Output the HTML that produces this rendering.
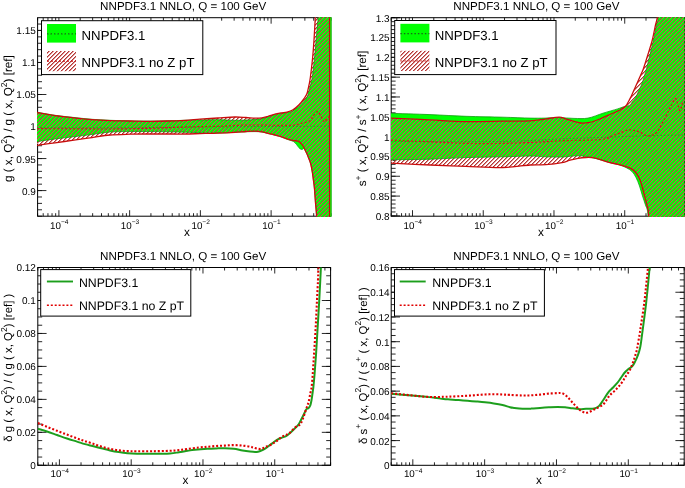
<!DOCTYPE html>
<html><head><meta charset="utf-8"><style>
html,body{margin:0;padding:0;background:#fff;}
svg{display:block;will-change:transform;}
</style></head><body>
<svg width="685" height="488" viewBox="0 0 685 488" text-rendering="geometricPrecision" font-family='&quot;Liberation Sans&quot;, sans-serif'>

<defs>
 <pattern id="hg" patternUnits="userSpaceOnUse" width="4" height="4" shape-rendering="crispEdges"><rect x="0" y="0" width="1" height="1" fill="#7da23c"/><rect x="0" y="3" width="1" height="1" fill="#a4503f"/><rect x="1" y="2" width="1" height="1" fill="#a4503f"/><rect x="1" y="3" width="1" height="1" fill="#7da23c"/><rect x="2" y="1" width="1" height="1" fill="#a4503f"/><rect x="2" y="2" width="1" height="1" fill="#7da23c"/><rect x="3" y="0" width="1" height="1" fill="#a4503f"/><rect x="3" y="1" width="1" height="1" fill="#7da23c"/></pattern>
 <pattern id="hw" patternUnits="userSpaceOnUse" width="4" height="4" shape-rendering="crispEdges"><rect x="0" y="0" width="1" height="1" fill="#e88888"/><rect x="0" y="3" width="1" height="1" fill="#a83a3a"/><rect x="1" y="2" width="1" height="1" fill="#a83a3a"/><rect x="1" y="3" width="1" height="1" fill="#e88888"/><rect x="2" y="1" width="1" height="1" fill="#a83a3a"/><rect x="2" y="2" width="1" height="1" fill="#e88888"/><rect x="3" y="0" width="1" height="1" fill="#a83a3a"/><rect x="3" y="1" width="1" height="1" fill="#e88888"/></pattern>
 <filter id="soft" x="0" y="0" width="685" height="488" filterUnits="userSpaceOnUse"><feGaussianBlur stdDeviation="0.35"/></filter>
 <clipPath id="c1"><rect x="37.0" y="17.2" width="294.5" height="199.5"/></clipPath>
 <clipPath id="c2"><rect x="390.7" y="17.2" width="293.8" height="199.5"/></clipPath>
 <clipPath id="c3"><rect x="37.8" y="267.5" width="292.8" height="197.8"/></clipPath>
 <clipPath id="c4"><rect x="391.2" y="267.5" width="293" height="197.8"/></clipPath>
</defs>

<g filter="url(#soft)">
<rect width="685" height="488" fill="#fff"/>
<path d="M37.60,216.20v-3.00M37.60,17.70v3.00M43.20,216.20v-3.00M43.20,17.70v3.00M47.94,216.20v-3.00M47.94,17.70v3.00M52.04,216.20v-3.00M52.04,17.70v3.00M55.66,216.20v-3.00M55.66,17.70v3.00M58.90,216.20v-6.00M58.90,17.70v6.00M80.19,216.20v-3.00M80.19,17.70v3.00M92.65,216.20v-3.00M92.65,17.70v3.00M101.49,216.20v-3.00M101.49,17.70v3.00M108.34,216.20v-3.00M108.34,17.70v3.00M113.94,216.20v-3.00M113.94,17.70v3.00M118.68,216.20v-3.00M118.68,17.70v3.00M122.78,216.20v-3.00M122.78,17.70v3.00M126.40,216.20v-3.00M126.40,17.70v3.00M129.64,216.20v-6.00M129.64,17.70v6.00M150.93,216.20v-3.00M150.93,17.70v3.00M163.39,216.20v-3.00M163.39,17.70v3.00M172.23,216.20v-3.00M172.23,17.70v3.00M179.08,216.20v-3.00M179.08,17.70v3.00M184.68,216.20v-3.00M184.68,17.70v3.00M189.42,216.20v-3.00M189.42,17.70v3.00M193.52,216.20v-3.00M193.52,17.70v3.00M197.14,216.20v-3.00M197.14,17.70v3.00M200.38,216.20v-6.00M200.38,17.70v6.00M221.67,216.20v-3.00M221.67,17.70v3.00M234.13,216.20v-3.00M234.13,17.70v3.00M242.97,216.20v-3.00M242.97,17.70v3.00M249.82,216.20v-3.00M249.82,17.70v3.00M255.42,216.20v-3.00M255.42,17.70v3.00M260.16,216.20v-3.00M260.16,17.70v3.00M264.26,216.20v-3.00M264.26,17.70v3.00M267.88,216.20v-3.00M267.88,17.70v3.00M271.12,216.20v-6.00M271.12,17.70v6.00M292.41,216.20v-3.00M292.41,17.70v3.00M304.87,216.20v-3.00M304.87,17.70v3.00M313.71,216.20v-3.00M313.71,17.70v3.00M320.56,216.20v-3.00M320.56,17.70v3.00M326.16,216.20v-3.00M326.16,17.70v3.00M330.90,216.20v-3.00M330.90,17.70v3.00M37.60,216.19h4.40M330.90,216.19h-4.40M37.60,209.79h4.40M330.90,209.79h-4.40M37.60,203.38h4.40M330.90,203.38h-4.40M37.60,196.98h4.40M330.90,196.98h-4.40M37.60,190.57h4.40M330.90,190.57h-4.40M37.60,184.17h4.40M330.90,184.17h-4.40M37.60,177.76h4.40M330.90,177.76h-4.40M37.60,171.36h4.40M330.90,171.36h-4.40M37.60,164.95h4.40M330.90,164.95h-4.40M37.60,158.55h4.40M330.90,158.55h-4.40M37.60,152.14h4.40M330.90,152.14h-4.40M37.60,145.74h4.40M330.90,145.74h-4.40M37.60,139.33h4.40M330.90,139.33h-4.40M37.60,132.93h4.40M330.90,132.93h-4.40M37.60,126.52h4.40M330.90,126.52h-4.40M37.60,120.12h4.40M330.90,120.12h-4.40M37.60,113.71h4.40M330.90,113.71h-4.40M37.60,107.31h4.40M330.90,107.31h-4.40M37.60,100.90h4.40M330.90,100.90h-4.40M37.60,94.50h4.40M330.90,94.50h-4.40M37.60,88.09h4.40M330.90,88.09h-4.40M37.60,81.69h4.40M330.90,81.69h-4.40M37.60,75.28h4.40M330.90,75.28h-4.40M37.60,68.88h4.40M330.90,68.88h-4.40M37.60,62.47h4.40M330.90,62.47h-4.40M37.60,56.07h4.40M330.90,56.07h-4.40M37.60,49.66h4.40M330.90,49.66h-4.40M37.60,43.26h4.40M330.90,43.26h-4.40M37.60,36.86h4.40M330.90,36.86h-4.40M37.60,30.45h4.40M330.90,30.45h-4.40M37.60,24.04h4.40M330.90,24.04h-4.40M37.60,190.57h8.80M330.90,190.57h-8.80M37.60,158.55h8.80M330.90,158.55h-8.80M37.60,126.52h8.80M330.90,126.52h-8.80M37.60,94.50h8.80M330.90,94.50h-8.80M37.60,62.47h8.80M330.90,62.47h-8.80M37.60,30.45h8.80M330.90,30.45h-8.80" stroke="#111" stroke-width="0.9" fill="none"/>
<rect x="37.60" y="17.70" width="293.30" height="198.50" fill="none" stroke="#000" stroke-width="1"/>
<path d="M391.20,216.20v-3.00M391.20,17.70v3.00M396.80,216.20v-3.00M396.80,17.70v3.00M401.54,216.20v-3.00M401.54,17.70v3.00M405.64,216.20v-3.00M405.64,17.70v3.00M409.26,216.20v-3.00M409.26,17.70v3.00M412.50,216.20v-6.00M412.50,17.70v6.00M433.79,216.20v-3.00M433.79,17.70v3.00M446.25,216.20v-3.00M446.25,17.70v3.00M455.09,216.20v-3.00M455.09,17.70v3.00M461.94,216.20v-3.00M461.94,17.70v3.00M467.54,216.20v-3.00M467.54,17.70v3.00M472.28,216.20v-3.00M472.28,17.70v3.00M476.38,216.20v-3.00M476.38,17.70v3.00M480.00,216.20v-3.00M480.00,17.70v3.00M483.24,216.20v-6.00M483.24,17.70v6.00M504.53,216.20v-3.00M504.53,17.70v3.00M516.99,216.20v-3.00M516.99,17.70v3.00M525.83,216.20v-3.00M525.83,17.70v3.00M532.68,216.20v-3.00M532.68,17.70v3.00M538.28,216.20v-3.00M538.28,17.70v3.00M543.02,216.20v-3.00M543.02,17.70v3.00M547.12,216.20v-3.00M547.12,17.70v3.00M550.74,216.20v-3.00M550.74,17.70v3.00M553.98,216.20v-6.00M553.98,17.70v6.00M575.27,216.20v-3.00M575.27,17.70v3.00M587.73,216.20v-3.00M587.73,17.70v3.00M596.57,216.20v-3.00M596.57,17.70v3.00M603.42,216.20v-3.00M603.42,17.70v3.00M609.02,216.20v-3.00M609.02,17.70v3.00M613.76,216.20v-3.00M613.76,17.70v3.00M617.86,216.20v-3.00M617.86,17.70v3.00M621.48,216.20v-3.00M621.48,17.70v3.00M624.72,216.20v-6.00M624.72,17.70v6.00M646.01,216.20v-3.00M646.01,17.70v3.00M658.47,216.20v-3.00M658.47,17.70v3.00M667.31,216.20v-3.00M667.31,17.70v3.00M674.16,216.20v-3.00M674.16,17.70v3.00M679.76,216.20v-3.00M679.76,17.70v3.00M684.50,216.20v-3.00M684.50,17.70v3.00M391.20,215.90h4.40M684.50,215.90h-4.40M391.20,211.94h4.40M684.50,211.94h-4.40M391.20,207.97h4.40M684.50,207.97h-4.40M391.20,204.01h4.40M684.50,204.01h-4.40M391.20,200.04h4.40M684.50,200.04h-4.40M391.20,196.08h4.40M684.50,196.08h-4.40M391.20,192.12h4.40M684.50,192.12h-4.40M391.20,188.15h4.40M684.50,188.15h-4.40M391.20,184.19h4.40M684.50,184.19h-4.40M391.20,180.22h4.40M684.50,180.22h-4.40M391.20,176.26h4.40M684.50,176.26h-4.40M391.20,172.30h4.40M684.50,172.30h-4.40M391.20,168.33h4.40M684.50,168.33h-4.40M391.20,164.37h4.40M684.50,164.37h-4.40M391.20,160.40h4.40M684.50,160.40h-4.40M391.20,156.44h4.40M684.50,156.44h-4.40M391.20,152.48h4.40M684.50,152.48h-4.40M391.20,148.51h4.40M684.50,148.51h-4.40M391.20,144.55h4.40M684.50,144.55h-4.40M391.20,140.58h4.40M684.50,140.58h-4.40M391.20,136.62h4.40M684.50,136.62h-4.40M391.20,132.66h4.40M684.50,132.66h-4.40M391.20,128.69h4.40M684.50,128.69h-4.40M391.20,124.73h4.40M684.50,124.73h-4.40M391.20,120.76h4.40M684.50,120.76h-4.40M391.20,116.80h4.40M684.50,116.80h-4.40M391.20,112.84h4.40M684.50,112.84h-4.40M391.20,108.87h4.40M684.50,108.87h-4.40M391.20,104.91h4.40M684.50,104.91h-4.40M391.20,100.94h4.40M684.50,100.94h-4.40M391.20,96.98h4.40M684.50,96.98h-4.40M391.20,93.02h4.40M684.50,93.02h-4.40M391.20,89.05h4.40M684.50,89.05h-4.40M391.20,85.09h4.40M684.50,85.09h-4.40M391.20,81.12h4.40M684.50,81.12h-4.40M391.20,77.16h4.40M684.50,77.16h-4.40M391.20,73.20h4.40M684.50,73.20h-4.40M391.20,69.23h4.40M684.50,69.23h-4.40M391.20,65.27h4.40M684.50,65.27h-4.40M391.20,61.30h4.40M684.50,61.30h-4.40M391.20,57.34h4.40M684.50,57.34h-4.40M391.20,53.38h4.40M684.50,53.38h-4.40M391.20,49.41h4.40M684.50,49.41h-4.40M391.20,45.45h4.40M684.50,45.45h-4.40M391.20,41.48h4.40M684.50,41.48h-4.40M391.20,37.52h4.40M684.50,37.52h-4.40M391.20,33.56h4.40M684.50,33.56h-4.40M391.20,29.59h4.40M684.50,29.59h-4.40M391.20,25.63h4.40M684.50,25.63h-4.40M391.20,21.66h4.40M684.50,21.66h-4.40M391.20,17.70h4.40M684.50,17.70h-4.40M391.20,215.90h8.80M684.50,215.90h-8.80M391.20,196.08h8.80M684.50,196.08h-8.80M391.20,176.26h8.80M684.50,176.26h-8.80M391.20,156.44h8.80M684.50,156.44h-8.80M391.20,136.62h8.80M684.50,136.62h-8.80M391.20,116.80h8.80M684.50,116.80h-8.80M391.20,96.98h8.80M684.50,96.98h-8.80M391.20,77.16h8.80M684.50,77.16h-8.80M391.20,57.34h8.80M684.50,57.34h-8.80M391.20,37.52h8.80M684.50,37.52h-8.80M391.20,17.70h8.80M684.50,17.70h-8.80" stroke="#111" stroke-width="0.9" fill="none"/>
<rect x="391.20" y="17.70" width="293.30" height="198.50" fill="none" stroke="#000" stroke-width="1"/>
<path d="M37.80,465.30v-3.00M37.80,267.50v3.00M43.48,465.30v-3.00M43.48,267.50v3.00M48.29,465.30v-3.00M48.29,267.50v3.00M52.45,465.30v-3.00M52.45,267.50v3.00M56.12,465.30v-3.00M56.12,267.50v3.00M59.41,465.30v-6.00M59.41,267.50v6.00M81.02,465.30v-3.00M81.02,267.50v3.00M93.66,465.30v-3.00M93.66,267.50v3.00M102.62,465.30v-3.00M102.62,267.50v3.00M109.58,465.30v-3.00M109.58,267.50v3.00M115.26,465.30v-3.00M115.26,267.50v3.00M120.07,465.30v-3.00M120.07,267.50v3.00M124.23,465.30v-3.00M124.23,267.50v3.00M127.90,465.30v-3.00M127.90,267.50v3.00M131.19,465.30v-6.00M131.19,267.50v6.00M152.79,465.30v-3.00M152.79,267.50v3.00M165.43,465.30v-3.00M165.43,267.50v3.00M174.40,465.30v-3.00M174.40,267.50v3.00M181.36,465.30v-3.00M181.36,267.50v3.00M187.04,465.30v-3.00M187.04,267.50v3.00M191.85,465.30v-3.00M191.85,267.50v3.00M196.01,465.30v-3.00M196.01,267.50v3.00M199.68,465.30v-3.00M199.68,267.50v3.00M202.97,465.30v-6.00M202.97,267.50v6.00M224.57,465.30v-3.00M224.57,267.50v3.00M237.21,465.30v-3.00M237.21,267.50v3.00M246.18,465.30v-3.00M246.18,267.50v3.00M253.14,465.30v-3.00M253.14,267.50v3.00M258.82,465.30v-3.00M258.82,267.50v3.00M263.63,465.30v-3.00M263.63,267.50v3.00M267.79,465.30v-3.00M267.79,267.50v3.00M271.46,465.30v-3.00M271.46,267.50v3.00M274.74,465.30v-6.00M274.74,267.50v6.00M296.35,465.30v-3.00M296.35,267.50v3.00M308.99,465.30v-3.00M308.99,267.50v3.00M317.96,465.30v-3.00M317.96,267.50v3.00M324.92,465.30v-3.00M324.92,267.50v3.00M330.60,465.30v-3.00M330.60,267.50v3.00M37.80,465.30h4.40M330.60,465.30h-4.40M37.80,457.06h4.40M330.60,457.06h-4.40M37.80,448.82h4.40M330.60,448.82h-4.40M37.80,440.58h4.40M330.60,440.58h-4.40M37.80,432.34h4.40M330.60,432.34h-4.40M37.80,424.10h4.40M330.60,424.10h-4.40M37.80,415.86h4.40M330.60,415.86h-4.40M37.80,407.62h4.40M330.60,407.62h-4.40M37.80,399.38h4.40M330.60,399.38h-4.40M37.80,391.14h4.40M330.60,391.14h-4.40M37.80,382.90h4.40M330.60,382.90h-4.40M37.80,374.66h4.40M330.60,374.66h-4.40M37.80,366.42h4.40M330.60,366.42h-4.40M37.80,358.18h4.40M330.60,358.18h-4.40M37.80,349.94h4.40M330.60,349.94h-4.40M37.80,341.70h4.40M330.60,341.70h-4.40M37.80,333.46h4.40M330.60,333.46h-4.40M37.80,325.22h4.40M330.60,325.22h-4.40M37.80,316.98h4.40M330.60,316.98h-4.40M37.80,308.74h4.40M330.60,308.74h-4.40M37.80,300.50h4.40M330.60,300.50h-4.40M37.80,292.26h4.40M330.60,292.26h-4.40M37.80,284.02h4.40M330.60,284.02h-4.40M37.80,275.78h4.40M330.60,275.78h-4.40M37.80,267.54h4.40M330.60,267.54h-4.40M37.80,465.30h8.80M330.60,465.30h-8.80M37.80,432.34h8.80M330.60,432.34h-8.80M37.80,399.38h8.80M330.60,399.38h-8.80M37.80,366.42h8.80M330.60,366.42h-8.80M37.80,333.46h8.80M330.60,333.46h-8.80M37.80,300.50h8.80M330.60,300.50h-8.80M37.80,267.54h8.80M330.60,267.54h-8.80" stroke="#111" stroke-width="0.9" fill="none"/>
<rect x="37.80" y="267.50" width="292.80" height="197.80" fill="none" stroke="#000" stroke-width="1"/>
<path d="M391.20,465.30v-3.00M391.20,267.50v3.00M396.89,465.30v-3.00M396.89,267.50v3.00M401.70,465.30v-3.00M401.70,267.50v3.00M405.86,465.30v-3.00M405.86,267.50v3.00M409.54,465.30v-3.00M409.54,267.50v3.00M412.82,465.30v-6.00M412.82,267.50v6.00M434.44,465.30v-3.00M434.44,267.50v3.00M447.09,465.30v-3.00M447.09,267.50v3.00M456.07,465.30v-3.00M456.07,267.50v3.00M463.03,465.30v-3.00M463.03,267.50v3.00M468.72,465.30v-3.00M468.72,267.50v3.00M473.52,465.30v-3.00M473.52,267.50v3.00M477.69,465.30v-3.00M477.69,267.50v3.00M481.36,465.30v-3.00M481.36,267.50v3.00M484.65,465.30v-6.00M484.65,267.50v6.00M506.27,465.30v-3.00M506.27,267.50v3.00M518.92,465.30v-3.00M518.92,267.50v3.00M527.90,465.30v-3.00M527.90,267.50v3.00M534.86,465.30v-3.00M534.86,267.50v3.00M540.54,465.30v-3.00M540.54,267.50v3.00M545.35,465.30v-3.00M545.35,267.50v3.00M549.52,465.30v-3.00M549.52,267.50v3.00M553.19,465.30v-3.00M553.19,267.50v3.00M556.48,465.30v-6.00M556.48,267.50v6.00M578.10,465.30v-3.00M578.10,267.50v3.00M590.75,465.30v-3.00M590.75,267.50v3.00M599.72,465.30v-3.00M599.72,267.50v3.00M606.68,465.30v-3.00M606.68,267.50v3.00M612.37,465.30v-3.00M612.37,267.50v3.00M617.18,465.30v-3.00M617.18,267.50v3.00M621.35,465.30v-3.00M621.35,267.50v3.00M625.02,465.30v-3.00M625.02,267.50v3.00M628.31,465.30v-6.00M628.31,267.50v6.00M649.93,465.30v-3.00M649.93,267.50v3.00M662.58,465.30v-3.00M662.58,267.50v3.00M671.55,465.30v-3.00M671.55,267.50v3.00M678.51,465.30v-3.00M678.51,267.50v3.00M684.20,465.30v-3.00M684.20,267.50v3.00M391.20,465.30h4.40M684.20,465.30h-4.40M391.20,459.12h4.40M684.20,459.12h-4.40M391.20,452.94h4.40M684.20,452.94h-4.40M391.20,446.76h4.40M684.20,446.76h-4.40M391.20,440.58h4.40M684.20,440.58h-4.40M391.20,434.40h4.40M684.20,434.40h-4.40M391.20,428.22h4.40M684.20,428.22h-4.40M391.20,422.04h4.40M684.20,422.04h-4.40M391.20,415.86h4.40M684.20,415.86h-4.40M391.20,409.68h4.40M684.20,409.68h-4.40M391.20,403.50h4.40M684.20,403.50h-4.40M391.20,397.32h4.40M684.20,397.32h-4.40M391.20,391.14h4.40M684.20,391.14h-4.40M391.20,384.96h4.40M684.20,384.96h-4.40M391.20,378.78h4.40M684.20,378.78h-4.40M391.20,372.60h4.40M684.20,372.60h-4.40M391.20,366.42h4.40M684.20,366.42h-4.40M391.20,360.24h4.40M684.20,360.24h-4.40M391.20,354.06h4.40M684.20,354.06h-4.40M391.20,347.88h4.40M684.20,347.88h-4.40M391.20,341.70h4.40M684.20,341.70h-4.40M391.20,335.52h4.40M684.20,335.52h-4.40M391.20,329.34h4.40M684.20,329.34h-4.40M391.20,323.16h4.40M684.20,323.16h-4.40M391.20,316.98h4.40M684.20,316.98h-4.40M391.20,310.80h4.40M684.20,310.80h-4.40M391.20,304.62h4.40M684.20,304.62h-4.40M391.20,298.44h4.40M684.20,298.44h-4.40M391.20,292.26h4.40M684.20,292.26h-4.40M391.20,286.08h4.40M684.20,286.08h-4.40M391.20,279.90h4.40M684.20,279.90h-4.40M391.20,273.72h4.40M684.20,273.72h-4.40M391.20,267.54h4.40M684.20,267.54h-4.40M391.20,465.30h8.80M684.20,465.30h-8.80M391.20,440.58h8.80M684.20,440.58h-8.80M391.20,415.86h8.80M684.20,415.86h-8.80M391.20,391.14h8.80M684.20,391.14h-8.80M391.20,366.42h8.80M684.20,366.42h-8.80M391.20,341.70h8.80M684.20,341.70h-8.80M391.20,316.98h8.80M684.20,316.98h-8.80M391.20,292.26h8.80M684.20,292.26h-8.80M391.20,267.54h8.80M684.20,267.54h-8.80" stroke="#111" stroke-width="0.9" fill="none"/>
<rect x="391.20" y="267.50" width="293.00" height="197.80" fill="none" stroke="#000" stroke-width="1"/>
<g clip-path="url(#c1)">
<path d="M37.00,112.20 C40.00,112.72 48.83,114.42 55.00,115.30 C61.17,116.18 67.83,116.83 74.00,117.50 C80.17,118.17 86.00,118.83 92.00,119.30 C98.00,119.77 103.67,120.03 110.00,120.30 C116.33,120.57 123.33,120.77 130.00,120.90 C136.67,121.03 143.67,121.12 150.00,121.10 C156.33,121.08 162.17,120.93 168.00,120.80 C173.83,120.67 179.67,120.43 185.00,120.30 C190.33,120.17 194.50,120.10 200.00,120.00 C205.50,119.90 212.17,119.65 218.00,119.70 C223.83,119.75 230.33,120.25 235.00,120.30 C239.67,120.35 242.67,120.13 246.00,120.00 C249.33,119.87 252.33,119.73 255.00,119.50 C257.67,119.27 259.83,119.05 262.00,118.60 C264.17,118.15 265.83,117.48 268.00,116.80 C270.17,116.12 272.83,115.07 275.00,114.50 C277.17,113.93 279.00,113.73 281.00,113.40 C283.00,113.07 285.00,112.93 287.00,112.50 C289.00,112.07 291.00,111.80 293.00,110.80 C295.00,109.80 297.17,108.05 299.00,106.50 C300.83,104.95 302.67,103.00 304.00,101.50 C305.33,100.00 306.17,99.25 307.00,97.50 C307.83,95.75 308.33,93.42 309.00,91.00 C309.67,88.58 310.40,85.67 311.00,83.00 C311.60,80.33 311.97,79.67 312.60,75.00 C313.23,70.33 314.07,62.50 314.80,55.00 C315.53,47.50 316.43,36.33 317.00,30.00 C317.57,23.67 317.90,22.00 318.20,17.00 C318.50,12.00 318.70,2.83 318.80,0.00 L318.80,-20.00 L332.00,-20.00 L332.00,260.00 L317.20,255.00 L317.20,235.00 C317.10,231.83 316.87,221.17 316.60,216.00 C316.33,210.83 315.97,208.67 315.60,204.00 C315.23,199.33 314.77,192.00 314.40,188.00 C314.03,184.00 313.75,182.67 313.40,180.00 C313.05,177.33 312.70,174.50 312.30,172.00 C311.90,169.50 311.43,166.87 311.00,165.00 C310.57,163.13 310.15,162.08 309.70,160.80 C309.25,159.52 308.77,158.48 308.30,157.30 C307.83,156.12 307.38,154.78 306.90,153.70 C306.42,152.62 305.88,151.68 305.40,150.80 C304.92,149.92 304.47,148.67 304.00,148.40 C303.53,148.13 303.10,149.05 302.60,149.20 C302.10,149.35 301.60,149.53 301.00,149.30 C300.40,149.07 299.75,148.60 299.00,147.80 C298.25,147.00 297.40,145.53 296.50,144.50 C295.60,143.47 294.80,142.35 293.60,141.60 C292.40,140.85 290.73,140.53 289.30,140.00 C287.87,139.47 286.38,138.93 285.00,138.40 C283.62,137.87 282.67,137.33 281.00,136.80 C279.33,136.27 277.17,135.75 275.00,135.20 C272.83,134.65 270.17,134.03 268.00,133.50 C265.83,132.97 264.17,132.32 262.00,132.00 C259.83,131.68 257.67,131.63 255.00,131.60 C252.33,131.57 249.33,131.68 246.00,131.80 C242.67,131.92 239.67,132.10 235.00,132.30 C230.33,132.50 223.83,132.95 218.00,133.00 C212.17,133.05 205.50,132.73 200.00,132.60 C194.50,132.47 190.33,132.33 185.00,132.20 C179.67,132.07 173.83,131.90 168.00,131.80 C162.17,131.70 156.33,131.63 150.00,131.60 C143.67,131.57 136.67,131.53 130.00,131.60 C123.33,131.67 116.33,131.52 110.00,132.00 C103.67,132.48 98.00,133.72 92.00,134.50 C86.00,135.28 80.17,135.95 74.00,136.70 C67.83,137.45 61.17,138.18 55.00,139.00 C48.83,139.82 40.00,141.17 37.00,141.60 Z" fill="#00ff00"/>
<path d="M37.00,112.50 C40.00,113.02 48.83,114.72 55.00,115.60 C61.17,116.48 67.83,117.13 74.00,117.80 C80.17,118.47 86.00,119.13 92.00,119.60 C98.00,120.07 103.67,120.37 110.00,120.60 C116.33,120.83 123.33,120.88 130.00,121.00 C136.67,121.12 143.67,121.30 150.00,121.30 C156.33,121.30 162.17,121.17 168.00,121.00 C173.83,120.83 179.67,120.60 185.00,120.30 C190.33,120.00 194.50,119.58 200.00,119.20 C205.50,118.82 212.17,118.37 218.00,118.00 C223.83,117.63 230.33,117.08 235.00,117.00 C239.67,116.92 242.67,117.30 246.00,117.50 C249.33,117.70 252.33,118.15 255.00,118.20 C257.67,118.25 259.83,118.12 262.00,117.80 C264.17,117.48 265.83,116.92 268.00,116.30 C270.17,115.68 272.83,114.65 275.00,114.10 C277.17,113.55 279.00,113.32 281.00,113.00 C283.00,112.68 285.00,112.73 287.00,112.20 C289.00,111.67 291.00,111.03 293.00,109.80 C295.00,108.57 297.17,106.65 299.00,104.80 C300.83,102.95 302.67,100.58 304.00,98.70 C305.33,96.82 306.17,95.78 307.00,93.50 C307.83,91.22 308.43,87.75 309.00,85.00 C309.57,82.25 309.80,81.50 310.40,77.00 C311.00,72.50 312.00,64.17 312.60,58.00 C313.20,51.83 313.55,46.83 314.00,40.00 C314.45,33.17 314.97,23.67 315.30,17.00 C315.63,10.33 315.88,2.83 316.00,0.00 L316.00,-20.00 L329.60,-20.00 L329.60,260.00 L317.20,255.00 L317.20,235.00 C317.10,231.83 316.87,221.17 316.60,216.00 C316.33,210.83 315.97,208.67 315.60,204.00 C315.23,199.33 314.77,192.00 314.40,188.00 C314.03,184.00 313.75,182.67 313.40,180.00 C313.05,177.33 312.70,174.50 312.30,172.00 C311.90,169.50 311.43,166.87 311.00,165.00 C310.57,163.13 310.15,162.08 309.70,160.80 C309.25,159.52 308.77,158.48 308.30,157.30 C307.83,156.12 307.38,154.78 306.90,153.70 C306.42,152.62 305.88,151.77 305.40,150.80 C304.92,149.83 304.47,148.80 304.00,147.90 C303.53,147.00 303.20,146.23 302.60,145.40 C302.00,144.57 301.18,143.62 300.40,142.90 C299.62,142.18 299.03,141.48 297.90,141.10 C296.77,140.72 295.03,140.83 293.60,140.60 C292.17,140.37 290.73,140.10 289.30,139.70 C287.87,139.30 286.38,138.72 285.00,138.20 C283.62,137.68 282.67,137.13 281.00,136.60 C279.33,136.07 277.17,135.55 275.00,135.00 C272.83,134.45 270.17,133.82 268.00,133.30 C265.83,132.78 264.17,132.25 262.00,131.90 C259.83,131.55 257.67,131.27 255.00,131.20 C252.33,131.13 249.33,131.32 246.00,131.50 C242.67,131.68 239.67,132.03 235.00,132.30 C230.33,132.57 223.83,132.88 218.00,133.10 C212.17,133.32 205.50,133.45 200.00,133.60 C194.50,133.75 190.33,133.93 185.00,134.00 C179.67,134.07 173.83,134.00 168.00,134.00 C162.17,134.00 156.33,133.97 150.00,134.00 C143.67,134.03 136.67,134.03 130.00,134.20 C123.33,134.37 116.33,134.43 110.00,135.00 C103.67,135.57 98.00,136.73 92.00,137.60 C86.00,138.47 80.17,139.33 74.00,140.20 C67.83,141.07 61.17,141.93 55.00,142.80 C48.83,143.67 40.00,144.97 37.00,145.40 Z" fill="url(#hw)"/>
<clipPath id="c1g"><path d="M37.00,112.20 C40.00,112.72 48.83,114.42 55.00,115.30 C61.17,116.18 67.83,116.83 74.00,117.50 C80.17,118.17 86.00,118.83 92.00,119.30 C98.00,119.77 103.67,120.03 110.00,120.30 C116.33,120.57 123.33,120.77 130.00,120.90 C136.67,121.03 143.67,121.12 150.00,121.10 C156.33,121.08 162.17,120.93 168.00,120.80 C173.83,120.67 179.67,120.43 185.00,120.30 C190.33,120.17 194.50,120.10 200.00,120.00 C205.50,119.90 212.17,119.65 218.00,119.70 C223.83,119.75 230.33,120.25 235.00,120.30 C239.67,120.35 242.67,120.13 246.00,120.00 C249.33,119.87 252.33,119.73 255.00,119.50 C257.67,119.27 259.83,119.05 262.00,118.60 C264.17,118.15 265.83,117.48 268.00,116.80 C270.17,116.12 272.83,115.07 275.00,114.50 C277.17,113.93 279.00,113.73 281.00,113.40 C283.00,113.07 285.00,112.93 287.00,112.50 C289.00,112.07 291.00,111.80 293.00,110.80 C295.00,109.80 297.17,108.05 299.00,106.50 C300.83,104.95 302.67,103.00 304.00,101.50 C305.33,100.00 306.17,99.25 307.00,97.50 C307.83,95.75 308.33,93.42 309.00,91.00 C309.67,88.58 310.40,85.67 311.00,83.00 C311.60,80.33 311.97,79.67 312.60,75.00 C313.23,70.33 314.07,62.50 314.80,55.00 C315.53,47.50 316.43,36.33 317.00,30.00 C317.57,23.67 317.90,22.00 318.20,17.00 C318.50,12.00 318.70,2.83 318.80,0.00 L318.80,-20.00 L332.00,-20.00 L332.00,260.00 L317.20,255.00 L317.20,235.00 C317.10,231.83 316.87,221.17 316.60,216.00 C316.33,210.83 315.97,208.67 315.60,204.00 C315.23,199.33 314.77,192.00 314.40,188.00 C314.03,184.00 313.75,182.67 313.40,180.00 C313.05,177.33 312.70,174.50 312.30,172.00 C311.90,169.50 311.43,166.87 311.00,165.00 C310.57,163.13 310.15,162.08 309.70,160.80 C309.25,159.52 308.77,158.48 308.30,157.30 C307.83,156.12 307.38,154.78 306.90,153.70 C306.42,152.62 305.88,151.68 305.40,150.80 C304.92,149.92 304.47,148.67 304.00,148.40 C303.53,148.13 303.10,149.05 302.60,149.20 C302.10,149.35 301.60,149.53 301.00,149.30 C300.40,149.07 299.75,148.60 299.00,147.80 C298.25,147.00 297.40,145.53 296.50,144.50 C295.60,143.47 294.80,142.35 293.60,141.60 C292.40,140.85 290.73,140.53 289.30,140.00 C287.87,139.47 286.38,138.93 285.00,138.40 C283.62,137.87 282.67,137.33 281.00,136.80 C279.33,136.27 277.17,135.75 275.00,135.20 C272.83,134.65 270.17,134.03 268.00,133.50 C265.83,132.97 264.17,132.32 262.00,132.00 C259.83,131.68 257.67,131.63 255.00,131.60 C252.33,131.57 249.33,131.68 246.00,131.80 C242.67,131.92 239.67,132.10 235.00,132.30 C230.33,132.50 223.83,132.95 218.00,133.00 C212.17,133.05 205.50,132.73 200.00,132.60 C194.50,132.47 190.33,132.33 185.00,132.20 C179.67,132.07 173.83,131.90 168.00,131.80 C162.17,131.70 156.33,131.63 150.00,131.60 C143.67,131.57 136.67,131.53 130.00,131.60 C123.33,131.67 116.33,131.52 110.00,132.00 C103.67,132.48 98.00,133.72 92.00,134.50 C86.00,135.28 80.17,135.95 74.00,136.70 C67.83,137.45 61.17,138.18 55.00,139.00 C48.83,139.82 40.00,141.17 37.00,141.60 Z"/></clipPath>
<path d="M37.00,112.50 C40.00,113.02 48.83,114.72 55.00,115.60 C61.17,116.48 67.83,117.13 74.00,117.80 C80.17,118.47 86.00,119.13 92.00,119.60 C98.00,120.07 103.67,120.37 110.00,120.60 C116.33,120.83 123.33,120.88 130.00,121.00 C136.67,121.12 143.67,121.30 150.00,121.30 C156.33,121.30 162.17,121.17 168.00,121.00 C173.83,120.83 179.67,120.60 185.00,120.30 C190.33,120.00 194.50,119.58 200.00,119.20 C205.50,118.82 212.17,118.37 218.00,118.00 C223.83,117.63 230.33,117.08 235.00,117.00 C239.67,116.92 242.67,117.30 246.00,117.50 C249.33,117.70 252.33,118.15 255.00,118.20 C257.67,118.25 259.83,118.12 262.00,117.80 C264.17,117.48 265.83,116.92 268.00,116.30 C270.17,115.68 272.83,114.65 275.00,114.10 C277.17,113.55 279.00,113.32 281.00,113.00 C283.00,112.68 285.00,112.73 287.00,112.20 C289.00,111.67 291.00,111.03 293.00,109.80 C295.00,108.57 297.17,106.65 299.00,104.80 C300.83,102.95 302.67,100.58 304.00,98.70 C305.33,96.82 306.17,95.78 307.00,93.50 C307.83,91.22 308.43,87.75 309.00,85.00 C309.57,82.25 309.80,81.50 310.40,77.00 C311.00,72.50 312.00,64.17 312.60,58.00 C313.20,51.83 313.55,46.83 314.00,40.00 C314.45,33.17 314.97,23.67 315.30,17.00 C315.63,10.33 315.88,2.83 316.00,0.00 L316.00,-20.00 L329.60,-20.00 L329.60,260.00 L317.20,255.00 L317.20,235.00 C317.10,231.83 316.87,221.17 316.60,216.00 C316.33,210.83 315.97,208.67 315.60,204.00 C315.23,199.33 314.77,192.00 314.40,188.00 C314.03,184.00 313.75,182.67 313.40,180.00 C313.05,177.33 312.70,174.50 312.30,172.00 C311.90,169.50 311.43,166.87 311.00,165.00 C310.57,163.13 310.15,162.08 309.70,160.80 C309.25,159.52 308.77,158.48 308.30,157.30 C307.83,156.12 307.38,154.78 306.90,153.70 C306.42,152.62 305.88,151.77 305.40,150.80 C304.92,149.83 304.47,148.80 304.00,147.90 C303.53,147.00 303.20,146.23 302.60,145.40 C302.00,144.57 301.18,143.62 300.40,142.90 C299.62,142.18 299.03,141.48 297.90,141.10 C296.77,140.72 295.03,140.83 293.60,140.60 C292.17,140.37 290.73,140.10 289.30,139.70 C287.87,139.30 286.38,138.72 285.00,138.20 C283.62,137.68 282.67,137.13 281.00,136.60 C279.33,136.07 277.17,135.55 275.00,135.00 C272.83,134.45 270.17,133.82 268.00,133.30 C265.83,132.78 264.17,132.25 262.00,131.90 C259.83,131.55 257.67,131.27 255.00,131.20 C252.33,131.13 249.33,131.32 246.00,131.50 C242.67,131.68 239.67,132.03 235.00,132.30 C230.33,132.57 223.83,132.88 218.00,133.10 C212.17,133.32 205.50,133.45 200.00,133.60 C194.50,133.75 190.33,133.93 185.00,134.00 C179.67,134.07 173.83,134.00 168.00,134.00 C162.17,134.00 156.33,133.97 150.00,134.00 C143.67,134.03 136.67,134.03 130.00,134.20 C123.33,134.37 116.33,134.43 110.00,135.00 C103.67,135.57 98.00,136.73 92.00,137.60 C86.00,138.47 80.17,139.33 74.00,140.20 C67.83,141.07 61.17,141.93 55.00,142.80 C48.83,143.67 40.00,144.97 37.00,145.40 Z" fill="url(#hg)" clip-path="url(#c1g)"/>
<path d="M37.00,112.20 C40.00,112.72 48.83,114.42 55.00,115.30 C61.17,116.18 67.83,116.83 74.00,117.50 C80.17,118.17 86.00,118.83 92.00,119.30 C98.00,119.77 103.67,120.03 110.00,120.30 C116.33,120.57 123.33,120.77 130.00,120.90 C136.67,121.03 143.67,121.12 150.00,121.10 C156.33,121.08 162.17,120.93 168.00,120.80 C173.83,120.67 179.67,120.43 185.00,120.30 C190.33,120.17 194.50,120.10 200.00,120.00 C205.50,119.90 212.17,119.65 218.00,119.70 C223.83,119.75 230.33,120.25 235.00,120.30 C239.67,120.35 242.67,120.13 246.00,120.00 C249.33,119.87 252.33,119.73 255.00,119.50 C257.67,119.27 259.83,119.05 262.00,118.60 C264.17,118.15 265.83,117.48 268.00,116.80 C270.17,116.12 272.83,115.07 275.00,114.50 C277.17,113.93 279.00,113.73 281.00,113.40 C283.00,113.07 285.00,112.93 287.00,112.50 C289.00,112.07 291.00,111.80 293.00,110.80 C295.00,109.80 297.17,108.05 299.00,106.50 C300.83,104.95 302.67,103.00 304.00,101.50 C305.33,100.00 306.17,99.25 307.00,97.50 C307.83,95.75 308.33,93.42 309.00,91.00 C309.67,88.58 310.40,85.67 311.00,83.00 C311.60,80.33 311.97,79.67 312.60,75.00 C313.23,70.33 314.07,62.50 314.80,55.00 C315.53,47.50 316.43,36.33 317.00,30.00 C317.57,23.67 317.90,22.00 318.20,17.00 C318.50,12.00 318.70,2.83 318.80,0.00" fill="none" stroke="#159a15" stroke-width="0.8"/>
<path d="M37.00,141.60 C40.00,141.17 48.83,139.82 55.00,139.00 C61.17,138.18 67.83,137.45 74.00,136.70 C80.17,135.95 86.00,135.28 92.00,134.50 C98.00,133.72 103.67,132.48 110.00,132.00 C116.33,131.52 123.33,131.67 130.00,131.60 C136.67,131.53 143.67,131.57 150.00,131.60 C156.33,131.63 162.17,131.70 168.00,131.80 C173.83,131.90 179.67,132.07 185.00,132.20 C190.33,132.33 194.50,132.47 200.00,132.60 C205.50,132.73 212.17,133.05 218.00,133.00 C223.83,132.95 230.33,132.50 235.00,132.30 C239.67,132.10 242.67,131.92 246.00,131.80 C249.33,131.68 252.33,131.57 255.00,131.60 C257.67,131.63 259.83,131.68 262.00,132.00 C264.17,132.32 265.83,132.97 268.00,133.50 C270.17,134.03 272.83,134.65 275.00,135.20 C277.17,135.75 279.33,136.27 281.00,136.80 C282.67,137.33 283.62,137.87 285.00,138.40 C286.38,138.93 287.87,139.47 289.30,140.00 C290.73,140.53 292.40,140.85 293.60,141.60 C294.80,142.35 295.60,143.47 296.50,144.50 C297.40,145.53 298.25,147.00 299.00,147.80 C299.75,148.60 300.40,149.07 301.00,149.30 C301.60,149.53 302.10,149.35 302.60,149.20 C303.10,149.05 303.53,148.13 304.00,148.40 C304.47,148.67 304.92,149.92 305.40,150.80 C305.88,151.68 306.42,152.62 306.90,153.70 C307.38,154.78 307.83,156.12 308.30,157.30 C308.77,158.48 309.25,159.52 309.70,160.80 C310.15,162.08 310.57,163.13 311.00,165.00 C311.43,166.87 311.90,169.50 312.30,172.00 C312.70,174.50 313.05,177.33 313.40,180.00 C313.75,182.67 314.03,184.00 314.40,188.00 C314.77,192.00 315.23,199.33 315.60,204.00 C315.97,208.67 316.33,210.83 316.60,216.00 C316.87,221.17 317.10,231.83 317.20,235.00" fill="none" stroke="#159a15" stroke-width="0.8"/>
<path d="M37.00,112.50 C40.00,113.02 48.83,114.72 55.00,115.60 C61.17,116.48 67.83,117.13 74.00,117.80 C80.17,118.47 86.00,119.13 92.00,119.60 C98.00,120.07 103.67,120.37 110.00,120.60 C116.33,120.83 123.33,120.88 130.00,121.00 C136.67,121.12 143.67,121.30 150.00,121.30 C156.33,121.30 162.17,121.17 168.00,121.00 C173.83,120.83 179.67,120.60 185.00,120.30 C190.33,120.00 194.50,119.58 200.00,119.20 C205.50,118.82 212.17,118.37 218.00,118.00 C223.83,117.63 230.33,117.08 235.00,117.00 C239.67,116.92 242.67,117.30 246.00,117.50 C249.33,117.70 252.33,118.15 255.00,118.20 C257.67,118.25 259.83,118.12 262.00,117.80 C264.17,117.48 265.83,116.92 268.00,116.30 C270.17,115.68 272.83,114.65 275.00,114.10 C277.17,113.55 279.00,113.32 281.00,113.00 C283.00,112.68 285.00,112.73 287.00,112.20 C289.00,111.67 291.00,111.03 293.00,109.80 C295.00,108.57 297.17,106.65 299.00,104.80 C300.83,102.95 302.67,100.58 304.00,98.70 C305.33,96.82 306.17,95.78 307.00,93.50 C307.83,91.22 308.43,87.75 309.00,85.00 C309.57,82.25 309.80,81.50 310.40,77.00 C311.00,72.50 312.00,64.17 312.60,58.00 C313.20,51.83 313.55,46.83 314.00,40.00 C314.45,33.17 314.97,23.67 315.30,17.00 C315.63,10.33 315.88,2.83 316.00,0.00" fill="none" stroke="#c81010" stroke-width="1.3"/>
<path d="M37.00,145.40 C40.00,144.97 48.83,143.67 55.00,142.80 C61.17,141.93 67.83,141.07 74.00,140.20 C80.17,139.33 86.00,138.47 92.00,137.60 C98.00,136.73 103.67,135.57 110.00,135.00 C116.33,134.43 123.33,134.37 130.00,134.20 C136.67,134.03 143.67,134.03 150.00,134.00 C156.33,133.97 162.17,134.00 168.00,134.00 C173.83,134.00 179.67,134.07 185.00,134.00 C190.33,133.93 194.50,133.75 200.00,133.60 C205.50,133.45 212.17,133.32 218.00,133.10 C223.83,132.88 230.33,132.57 235.00,132.30 C239.67,132.03 242.67,131.68 246.00,131.50 C249.33,131.32 252.33,131.13 255.00,131.20 C257.67,131.27 259.83,131.55 262.00,131.90 C264.17,132.25 265.83,132.78 268.00,133.30 C270.17,133.82 272.83,134.45 275.00,135.00 C277.17,135.55 279.33,136.07 281.00,136.60 C282.67,137.13 283.62,137.68 285.00,138.20 C286.38,138.72 287.87,139.30 289.30,139.70 C290.73,140.10 292.17,140.37 293.60,140.60 C295.03,140.83 296.77,140.72 297.90,141.10 C299.03,141.48 299.62,142.18 300.40,142.90 C301.18,143.62 302.00,144.57 302.60,145.40 C303.20,146.23 303.53,147.00 304.00,147.90 C304.47,148.80 304.92,149.83 305.40,150.80 C305.88,151.77 306.42,152.62 306.90,153.70 C307.38,154.78 307.83,156.12 308.30,157.30 C308.77,158.48 309.25,159.52 309.70,160.80 C310.15,162.08 310.57,163.13 311.00,165.00 C311.43,166.87 311.90,169.50 312.30,172.00 C312.70,174.50 313.05,177.33 313.40,180.00 C313.75,182.67 314.03,184.00 314.40,188.00 C314.77,192.00 315.23,199.33 315.60,204.00 C315.97,208.67 316.33,210.83 316.60,216.00 C316.87,221.17 317.10,231.83 317.20,235.00" fill="none" stroke="#c81010" stroke-width="1.3"/>
<path d="M329.60,0 V240" fill="none" stroke="#c81010" stroke-width="1.3"/>
<path d="M37.00,127.60 C49.17,127.63 85.33,127.87 110.00,127.80 C134.67,127.73 161.67,127.40 185.00,127.20 C208.33,127.00 230.83,126.73 250.00,126.60 C269.17,126.47 286.67,126.50 300.00,126.40 C313.33,126.30 325.00,126.07 330.00,126.00" fill="none" stroke="#2b6b2b" stroke-width="1" stroke-dasharray="1.5 2" opacity="0.6"/>
<path d="M37.00,128.70 C43.17,128.72 61.83,128.75 74.00,128.80 C86.17,128.85 97.33,129.08 110.00,129.00 C122.67,128.92 137.50,128.63 150.00,128.30 C162.50,127.97 173.67,127.35 185.00,127.00 C196.33,126.65 207.17,126.53 218.00,126.20 C228.83,125.87 238.00,125.13 250.00,125.00 C262.00,124.87 281.67,125.63 290.00,125.40 C298.33,125.17 296.67,124.37 300.00,123.60 C303.33,122.83 307.83,122.03 310.00,120.80 C312.17,119.57 311.75,117.73 313.00,116.20 C314.25,114.67 316.33,111.83 317.50,111.60 C318.67,111.37 319.08,113.42 320.00,114.80 C320.92,116.18 322.17,118.73 323.00,119.90 C323.83,121.07 324.33,122.12 325.00,121.80 C325.67,121.48 326.25,118.80 327.00,118.00 C327.75,117.20 329.08,117.17 329.50,117.00" fill="none" stroke="#d01818" stroke-width="1.2" stroke-dasharray="2 2"/>
</g>
<g clip-path="url(#c2)">
<path d="M391.00,113.30 C397.50,113.52 417.50,114.10 430.00,114.60 C442.50,115.10 453.83,115.87 466.00,116.30 C478.17,116.73 492.33,116.90 503.00,117.20 C513.67,117.50 523.00,117.95 530.00,118.10 C537.00,118.25 540.17,118.18 545.00,118.10 C549.83,118.02 554.17,117.55 559.00,117.60 C563.83,117.65 569.17,118.32 574.00,118.40 C578.83,118.48 583.17,118.97 588.00,118.10 C592.83,117.23 598.07,114.73 603.00,113.20 C607.93,111.67 614.27,109.93 617.60,108.90 C620.93,107.87 621.05,107.57 623.00,107.00 C624.95,106.43 627.72,106.42 629.30,105.50 C630.88,104.58 631.42,102.85 632.50,101.50 C633.58,100.15 634.72,99.32 635.80,97.40 C636.88,95.48 637.93,92.40 639.00,90.00 C640.07,87.60 640.95,86.55 642.20,83.00 C643.45,79.45 645.18,73.48 646.50,68.70 C647.82,63.92 648.93,59.08 650.10,54.30 C651.27,49.52 652.43,44.88 653.50,40.00 C654.57,35.12 655.67,28.83 656.50,25.00 C657.33,21.17 657.92,21.17 658.50,17.00 C659.08,12.83 659.75,2.83 660.00,0.00 L660.00,-20.00 L686.00,-20.00 L686.00,260.00 L648.80,255.00 L648.80,235.00 C648.63,231.33 648.35,218.00 647.80,213.00 C647.25,208.00 646.38,207.83 645.50,205.00 C644.62,202.17 643.50,199.17 642.50,196.00 C641.50,192.83 640.58,189.08 639.50,186.00 C638.42,182.92 637.25,179.92 636.00,177.50 C634.75,175.08 633.67,173.17 632.00,171.50 C630.33,169.83 628.33,168.67 626.00,167.50 C623.67,166.33 620.67,165.30 618.00,164.50 C615.33,163.70 612.67,163.42 610.00,162.70 C607.33,161.98 605.33,161.12 602.00,160.20 C598.67,159.28 594.00,157.93 590.00,157.20 C586.00,156.47 582.67,155.83 578.00,155.80 C573.33,155.77 567.33,156.83 562.00,157.00 C556.67,157.17 551.33,156.95 546.00,156.80 C540.67,156.65 537.17,156.10 530.00,156.10 C522.83,156.10 513.67,156.55 503.00,156.80 C492.33,157.05 478.17,157.20 466.00,157.60 C453.83,158.00 442.50,158.83 430.00,159.20 C417.50,159.57 397.50,159.70 391.00,159.80 Z" fill="#00ff00"/>
<path d="M391.00,118.20 C397.50,118.48 417.50,119.33 430.00,119.90 C442.50,120.47 453.83,121.38 466.00,121.60 C478.17,121.82 492.33,121.33 503.00,121.20 C513.67,121.07 523.00,121.15 530.00,120.80 C537.00,120.45 540.17,119.70 545.00,119.10 C549.83,118.50 555.42,117.20 559.00,117.20 C562.58,117.20 564.00,118.42 566.50,119.10 C569.00,119.78 571.58,120.65 574.00,121.30 C576.42,121.95 578.67,122.77 581.00,123.00 C583.33,123.23 585.50,123.12 588.00,122.70 C590.50,122.28 593.50,121.35 596.00,120.50 C598.50,119.65 600.33,118.77 603.00,117.60 C605.67,116.43 609.57,114.57 612.00,113.50 C614.43,112.43 616.02,111.95 617.60,111.20 C619.18,110.45 620.15,109.87 621.50,109.00 C622.85,108.13 624.53,107.25 625.70,106.00 C626.87,104.75 627.67,102.93 628.50,101.50 C629.33,100.07 629.78,99.32 630.70,97.40 C631.62,95.48 632.92,92.40 634.00,90.00 C635.08,87.60 636.12,85.42 637.20,83.00 C638.28,80.58 639.47,77.88 640.50,75.50 C641.53,73.12 642.15,72.23 643.40,68.70 C644.65,65.17 646.52,59.08 648.00,54.30 C649.48,49.52 651.05,44.88 652.30,40.00 C653.55,35.12 654.65,28.83 655.50,25.00 C656.35,21.17 656.82,21.17 657.40,17.00 C657.98,12.83 658.73,2.83 659.00,0.00 L659.00,-20.00 L686.00,-20.00 L686.00,260.00 L649.30,255.00 L649.30,235.00 C649.17,231.33 648.85,217.83 648.50,213.00 C648.15,208.17 647.78,208.55 647.20,206.00 C646.62,203.45 645.78,200.70 645.00,197.70 C644.22,194.70 643.33,190.95 642.50,188.00 C641.67,185.05 641.00,182.42 640.00,180.00 C639.00,177.58 637.83,175.32 636.50,173.50 C635.17,171.68 633.75,170.23 632.00,169.10 C630.25,167.97 628.33,167.50 626.00,166.70 C623.67,165.90 620.67,164.97 618.00,164.30 C615.33,163.63 612.67,163.38 610.00,162.70 C607.33,162.02 604.67,161.02 602.00,160.20 C599.33,159.38 596.67,158.25 594.00,157.80 C591.33,157.35 588.67,157.42 586.00,157.50 C583.33,157.58 580.67,157.85 578.00,158.30 C575.33,158.75 572.67,159.47 570.00,160.20 C567.33,160.93 566.00,161.95 562.00,162.70 C558.00,163.45 551.33,164.32 546.00,164.70 C540.67,165.08 537.17,164.53 530.00,165.00 C522.83,165.47 513.67,167.27 503.00,167.50 C492.33,167.73 478.17,166.82 466.00,166.40 C453.83,165.98 442.50,165.53 430.00,165.00 C417.50,164.47 397.50,163.50 391.00,163.20 Z" fill="url(#hw)"/>
<clipPath id="c2g"><path d="M391.00,113.30 C397.50,113.52 417.50,114.10 430.00,114.60 C442.50,115.10 453.83,115.87 466.00,116.30 C478.17,116.73 492.33,116.90 503.00,117.20 C513.67,117.50 523.00,117.95 530.00,118.10 C537.00,118.25 540.17,118.18 545.00,118.10 C549.83,118.02 554.17,117.55 559.00,117.60 C563.83,117.65 569.17,118.32 574.00,118.40 C578.83,118.48 583.17,118.97 588.00,118.10 C592.83,117.23 598.07,114.73 603.00,113.20 C607.93,111.67 614.27,109.93 617.60,108.90 C620.93,107.87 621.05,107.57 623.00,107.00 C624.95,106.43 627.72,106.42 629.30,105.50 C630.88,104.58 631.42,102.85 632.50,101.50 C633.58,100.15 634.72,99.32 635.80,97.40 C636.88,95.48 637.93,92.40 639.00,90.00 C640.07,87.60 640.95,86.55 642.20,83.00 C643.45,79.45 645.18,73.48 646.50,68.70 C647.82,63.92 648.93,59.08 650.10,54.30 C651.27,49.52 652.43,44.88 653.50,40.00 C654.57,35.12 655.67,28.83 656.50,25.00 C657.33,21.17 657.92,21.17 658.50,17.00 C659.08,12.83 659.75,2.83 660.00,0.00 L660.00,-20.00 L686.00,-20.00 L686.00,260.00 L648.80,255.00 L648.80,235.00 C648.63,231.33 648.35,218.00 647.80,213.00 C647.25,208.00 646.38,207.83 645.50,205.00 C644.62,202.17 643.50,199.17 642.50,196.00 C641.50,192.83 640.58,189.08 639.50,186.00 C638.42,182.92 637.25,179.92 636.00,177.50 C634.75,175.08 633.67,173.17 632.00,171.50 C630.33,169.83 628.33,168.67 626.00,167.50 C623.67,166.33 620.67,165.30 618.00,164.50 C615.33,163.70 612.67,163.42 610.00,162.70 C607.33,161.98 605.33,161.12 602.00,160.20 C598.67,159.28 594.00,157.93 590.00,157.20 C586.00,156.47 582.67,155.83 578.00,155.80 C573.33,155.77 567.33,156.83 562.00,157.00 C556.67,157.17 551.33,156.95 546.00,156.80 C540.67,156.65 537.17,156.10 530.00,156.10 C522.83,156.10 513.67,156.55 503.00,156.80 C492.33,157.05 478.17,157.20 466.00,157.60 C453.83,158.00 442.50,158.83 430.00,159.20 C417.50,159.57 397.50,159.70 391.00,159.80 Z"/></clipPath>
<path d="M391.00,118.20 C397.50,118.48 417.50,119.33 430.00,119.90 C442.50,120.47 453.83,121.38 466.00,121.60 C478.17,121.82 492.33,121.33 503.00,121.20 C513.67,121.07 523.00,121.15 530.00,120.80 C537.00,120.45 540.17,119.70 545.00,119.10 C549.83,118.50 555.42,117.20 559.00,117.20 C562.58,117.20 564.00,118.42 566.50,119.10 C569.00,119.78 571.58,120.65 574.00,121.30 C576.42,121.95 578.67,122.77 581.00,123.00 C583.33,123.23 585.50,123.12 588.00,122.70 C590.50,122.28 593.50,121.35 596.00,120.50 C598.50,119.65 600.33,118.77 603.00,117.60 C605.67,116.43 609.57,114.57 612.00,113.50 C614.43,112.43 616.02,111.95 617.60,111.20 C619.18,110.45 620.15,109.87 621.50,109.00 C622.85,108.13 624.53,107.25 625.70,106.00 C626.87,104.75 627.67,102.93 628.50,101.50 C629.33,100.07 629.78,99.32 630.70,97.40 C631.62,95.48 632.92,92.40 634.00,90.00 C635.08,87.60 636.12,85.42 637.20,83.00 C638.28,80.58 639.47,77.88 640.50,75.50 C641.53,73.12 642.15,72.23 643.40,68.70 C644.65,65.17 646.52,59.08 648.00,54.30 C649.48,49.52 651.05,44.88 652.30,40.00 C653.55,35.12 654.65,28.83 655.50,25.00 C656.35,21.17 656.82,21.17 657.40,17.00 C657.98,12.83 658.73,2.83 659.00,0.00 L659.00,-20.00 L686.00,-20.00 L686.00,260.00 L649.30,255.00 L649.30,235.00 C649.17,231.33 648.85,217.83 648.50,213.00 C648.15,208.17 647.78,208.55 647.20,206.00 C646.62,203.45 645.78,200.70 645.00,197.70 C644.22,194.70 643.33,190.95 642.50,188.00 C641.67,185.05 641.00,182.42 640.00,180.00 C639.00,177.58 637.83,175.32 636.50,173.50 C635.17,171.68 633.75,170.23 632.00,169.10 C630.25,167.97 628.33,167.50 626.00,166.70 C623.67,165.90 620.67,164.97 618.00,164.30 C615.33,163.63 612.67,163.38 610.00,162.70 C607.33,162.02 604.67,161.02 602.00,160.20 C599.33,159.38 596.67,158.25 594.00,157.80 C591.33,157.35 588.67,157.42 586.00,157.50 C583.33,157.58 580.67,157.85 578.00,158.30 C575.33,158.75 572.67,159.47 570.00,160.20 C567.33,160.93 566.00,161.95 562.00,162.70 C558.00,163.45 551.33,164.32 546.00,164.70 C540.67,165.08 537.17,164.53 530.00,165.00 C522.83,165.47 513.67,167.27 503.00,167.50 C492.33,167.73 478.17,166.82 466.00,166.40 C453.83,165.98 442.50,165.53 430.00,165.00 C417.50,164.47 397.50,163.50 391.00,163.20 Z" fill="url(#hg)" clip-path="url(#c2g)"/>
<path d="M391.00,113.30 C397.50,113.52 417.50,114.10 430.00,114.60 C442.50,115.10 453.83,115.87 466.00,116.30 C478.17,116.73 492.33,116.90 503.00,117.20 C513.67,117.50 523.00,117.95 530.00,118.10 C537.00,118.25 540.17,118.18 545.00,118.10 C549.83,118.02 554.17,117.55 559.00,117.60 C563.83,117.65 569.17,118.32 574.00,118.40 C578.83,118.48 583.17,118.97 588.00,118.10 C592.83,117.23 598.07,114.73 603.00,113.20 C607.93,111.67 614.27,109.93 617.60,108.90 C620.93,107.87 621.05,107.57 623.00,107.00 C624.95,106.43 627.72,106.42 629.30,105.50 C630.88,104.58 631.42,102.85 632.50,101.50 C633.58,100.15 634.72,99.32 635.80,97.40 C636.88,95.48 637.93,92.40 639.00,90.00 C640.07,87.60 640.95,86.55 642.20,83.00 C643.45,79.45 645.18,73.48 646.50,68.70 C647.82,63.92 648.93,59.08 650.10,54.30 C651.27,49.52 652.43,44.88 653.50,40.00 C654.57,35.12 655.67,28.83 656.50,25.00 C657.33,21.17 657.92,21.17 658.50,17.00 C659.08,12.83 659.75,2.83 660.00,0.00" fill="none" stroke="#159a15" stroke-width="0.8"/>
<path d="M391.00,159.80 C397.50,159.70 417.50,159.57 430.00,159.20 C442.50,158.83 453.83,158.00 466.00,157.60 C478.17,157.20 492.33,157.05 503.00,156.80 C513.67,156.55 522.83,156.10 530.00,156.10 C537.17,156.10 540.67,156.65 546.00,156.80 C551.33,156.95 556.67,157.17 562.00,157.00 C567.33,156.83 573.33,155.77 578.00,155.80 C582.67,155.83 586.00,156.47 590.00,157.20 C594.00,157.93 598.67,159.28 602.00,160.20 C605.33,161.12 607.33,161.98 610.00,162.70 C612.67,163.42 615.33,163.70 618.00,164.50 C620.67,165.30 623.67,166.33 626.00,167.50 C628.33,168.67 630.33,169.83 632.00,171.50 C633.67,173.17 634.75,175.08 636.00,177.50 C637.25,179.92 638.42,182.92 639.50,186.00 C640.58,189.08 641.50,192.83 642.50,196.00 C643.50,199.17 644.62,202.17 645.50,205.00 C646.38,207.83 647.25,208.00 647.80,213.00 C648.35,218.00 648.63,231.33 648.80,235.00" fill="none" stroke="#159a15" stroke-width="0.8"/>
<path d="M391.00,118.20 C397.50,118.48 417.50,119.33 430.00,119.90 C442.50,120.47 453.83,121.38 466.00,121.60 C478.17,121.82 492.33,121.33 503.00,121.20 C513.67,121.07 523.00,121.15 530.00,120.80 C537.00,120.45 540.17,119.70 545.00,119.10 C549.83,118.50 555.42,117.20 559.00,117.20 C562.58,117.20 564.00,118.42 566.50,119.10 C569.00,119.78 571.58,120.65 574.00,121.30 C576.42,121.95 578.67,122.77 581.00,123.00 C583.33,123.23 585.50,123.12 588.00,122.70 C590.50,122.28 593.50,121.35 596.00,120.50 C598.50,119.65 600.33,118.77 603.00,117.60 C605.67,116.43 609.57,114.57 612.00,113.50 C614.43,112.43 616.02,111.95 617.60,111.20 C619.18,110.45 620.15,109.87 621.50,109.00 C622.85,108.13 624.53,107.25 625.70,106.00 C626.87,104.75 627.67,102.93 628.50,101.50 C629.33,100.07 629.78,99.32 630.70,97.40 C631.62,95.48 632.92,92.40 634.00,90.00 C635.08,87.60 636.12,85.42 637.20,83.00 C638.28,80.58 639.47,77.88 640.50,75.50 C641.53,73.12 642.15,72.23 643.40,68.70 C644.65,65.17 646.52,59.08 648.00,54.30 C649.48,49.52 651.05,44.88 652.30,40.00 C653.55,35.12 654.65,28.83 655.50,25.00 C656.35,21.17 656.82,21.17 657.40,17.00 C657.98,12.83 658.73,2.83 659.00,0.00" fill="none" stroke="#c81010" stroke-width="1.3"/>
<path d="M391.00,163.20 C397.50,163.50 417.50,164.47 430.00,165.00 C442.50,165.53 453.83,165.98 466.00,166.40 C478.17,166.82 492.33,167.73 503.00,167.50 C513.67,167.27 522.83,165.47 530.00,165.00 C537.17,164.53 540.67,165.08 546.00,164.70 C551.33,164.32 558.00,163.45 562.00,162.70 C566.00,161.95 567.33,160.93 570.00,160.20 C572.67,159.47 575.33,158.75 578.00,158.30 C580.67,157.85 583.33,157.58 586.00,157.50 C588.67,157.42 591.33,157.35 594.00,157.80 C596.67,158.25 599.33,159.38 602.00,160.20 C604.67,161.02 607.33,162.02 610.00,162.70 C612.67,163.38 615.33,163.63 618.00,164.30 C620.67,164.97 623.67,165.90 626.00,166.70 C628.33,167.50 630.25,167.97 632.00,169.10 C633.75,170.23 635.17,171.68 636.50,173.50 C637.83,175.32 639.00,177.58 640.00,180.00 C641.00,182.42 641.67,185.05 642.50,188.00 C643.33,190.95 644.22,194.70 645.00,197.70 C645.78,200.70 646.62,203.45 647.20,206.00 C647.78,208.55 648.15,208.17 648.50,213.00 C648.85,217.83 649.17,231.33 649.30,235.00" fill="none" stroke="#c81010" stroke-width="1.3"/>
<path d="M686.00,0 V240" fill="none" stroke="#c81010" stroke-width="1.3"/>
<path d="M391.00,141.50 C409.17,141.50 471.83,141.92 500.00,141.50 C528.17,141.08 543.33,139.67 560.00,139.00 C576.67,138.33 586.67,138.00 600.00,137.50 C613.33,137.00 626.00,136.42 640.00,136.00 C654.00,135.58 676.67,135.17 684.00,135.00" fill="none" stroke="#2b6b2b" stroke-width="1" stroke-dasharray="1.5 2" opacity="0.6"/>
<path d="M391.00,140.20 C397.50,140.47 417.50,141.27 430.00,141.80 C442.50,142.33 453.83,143.13 466.00,143.40 C478.17,143.67 490.50,143.63 503.00,143.40 C515.50,143.17 531.50,142.43 541.00,142.00 C550.50,141.57 550.17,141.20 560.00,140.80 C569.83,140.40 591.33,140.40 600.00,139.60 C608.67,138.80 608.67,137.10 612.00,136.00 C615.33,134.90 617.33,134.00 620.00,133.00 C622.67,132.00 625.67,130.42 628.00,130.00 C630.33,129.58 632.00,130.17 634.00,130.50 C636.00,130.83 638.00,131.17 640.00,132.00 C642.00,132.83 644.17,134.92 646.00,135.50 C647.83,136.08 649.17,136.08 651.00,135.50 C652.83,134.92 654.83,134.58 657.00,132.00 C659.17,129.42 661.83,124.00 664.00,120.00 C666.17,116.00 668.17,111.55 670.00,108.00 C671.83,104.45 673.75,99.53 675.00,98.70 C676.25,97.87 676.67,101.00 677.50,103.00 C678.33,105.00 679.08,111.03 680.00,110.70 C680.92,110.37 682.50,102.62 683.00,101.00" fill="none" stroke="#d01818" stroke-width="1.2" stroke-dasharray="2 2"/>
</g>
<g clip-path="url(#c3)">
<path d="M37.80,428.80 C39.33,429.25 43.80,430.47 47.00,431.50 C50.20,432.53 53.67,433.83 57.00,435.00 C60.33,436.17 63.67,437.40 67.00,438.50 C70.33,439.60 74.00,440.67 77.00,441.60 C80.00,442.53 82.42,443.37 85.00,444.10 C87.58,444.83 89.78,445.32 92.50,446.00 C95.22,446.68 98.38,447.47 101.30,448.20 C104.22,448.93 107.08,449.75 110.00,450.40 C112.92,451.05 115.88,451.63 118.80,452.10 C121.72,452.57 124.47,452.93 127.50,453.20 C130.53,453.47 132.83,453.60 137.00,453.70 C141.17,453.80 147.00,453.85 152.50,453.80 C158.00,453.75 165.62,453.65 170.00,453.40 C174.38,453.15 175.87,452.73 178.80,452.30 C181.73,451.87 184.90,451.22 187.60,450.80 C190.30,450.38 191.68,450.13 195.00,449.80 C198.32,449.47 203.95,449.03 207.50,448.80 C211.05,448.57 213.38,448.50 216.30,448.40 C219.22,448.30 222.08,448.13 225.00,448.20 C227.92,448.27 230.88,448.43 233.80,448.80 C236.72,449.17 239.80,449.95 242.50,450.40 C245.20,450.85 247.92,451.23 250.00,451.50 C252.08,451.77 253.67,451.97 255.00,452.00 C256.33,452.03 256.93,451.95 258.00,451.70 C259.07,451.45 260.15,451.07 261.40,450.50 C262.65,449.93 264.13,449.15 265.50,448.30 C266.87,447.45 268.23,446.40 269.60,445.40 C270.97,444.40 272.33,443.32 273.70,442.30 C275.07,441.28 276.42,440.08 277.80,439.30 C279.18,438.52 280.63,438.12 282.00,437.60 C283.37,437.08 284.67,436.97 286.00,436.20 C287.33,435.43 288.50,434.33 290.00,433.00 C291.50,431.67 293.67,429.52 295.00,428.20 C296.33,426.88 297.15,426.18 298.00,425.10 C298.85,424.02 299.37,423.02 300.10,421.70 C300.83,420.38 301.65,418.70 302.40,417.20 C303.15,415.70 304.00,413.95 304.60,412.70 C305.20,411.45 305.52,410.40 306.00,409.70 C306.48,409.00 307.07,408.77 307.50,408.50 C307.93,408.23 308.13,408.62 308.60,408.10 C309.07,407.58 309.82,406.70 310.30,405.40 C310.78,404.10 311.13,402.28 311.50,400.30 C311.87,398.32 312.18,395.75 312.50,393.50 C312.82,391.25 313.07,389.88 313.40,386.80 C313.73,383.72 314.07,380.30 314.50,375.00 C314.93,369.70 315.50,362.50 316.00,355.00 C316.50,347.50 317.00,338.33 317.50,330.00 C318.00,321.67 318.53,313.33 319.00,305.00 C319.47,296.67 319.98,286.25 320.30,280.00 C320.62,273.75 320.70,271.67 320.90,267.50 C321.10,263.33 321.40,257.08 321.50,255.00" fill="none" stroke="#1f9f1f" stroke-width="2"/>
<path d="M37.80,423.00 C39.33,423.63 43.80,425.50 47.00,426.80 C50.20,428.10 53.67,429.50 57.00,430.80 C60.33,432.10 63.67,433.33 67.00,434.60 C70.33,435.87 74.17,437.37 77.00,438.40 C79.83,439.43 81.42,439.93 84.00,440.80 C86.58,441.67 89.62,442.65 92.50,443.60 C95.38,444.55 98.38,445.63 101.30,446.50 C104.22,447.37 107.08,448.15 110.00,448.80 C112.92,449.45 115.88,450.02 118.80,450.40 C121.72,450.78 124.47,450.95 127.50,451.10 C130.53,451.25 132.83,451.28 137.00,451.30 C141.17,451.32 147.00,451.28 152.50,451.20 C158.00,451.12 165.62,450.98 170.00,450.80 C174.38,450.62 175.87,450.40 178.80,450.10 C181.73,449.80 184.27,449.43 187.60,449.00 C190.93,448.57 195.48,447.87 198.80,447.50 C202.12,447.13 204.58,447.05 207.50,446.80 C210.42,446.55 213.38,446.20 216.30,446.00 C219.22,445.80 222.08,445.75 225.00,445.60 C227.92,445.45 230.88,445.10 233.80,445.10 C236.72,445.10 239.80,445.35 242.50,445.60 C245.20,445.85 248.22,446.28 250.00,446.60 C251.78,446.92 251.98,447.15 253.20,447.50 C254.42,447.85 255.93,448.47 257.30,448.70 C258.67,448.93 260.03,449.18 261.40,448.90 C262.77,448.62 264.13,447.58 265.50,447.00 C266.87,446.42 268.23,446.07 269.60,445.40 C270.97,444.73 272.33,443.88 273.70,443.00 C275.07,442.12 276.42,441.17 277.80,440.10 C279.18,439.03 280.63,437.45 282.00,436.60 C283.37,435.75 284.67,435.67 286.00,435.00 C287.33,434.33 288.50,433.83 290.00,432.60 C291.50,431.37 293.33,428.95 295.00,427.60 C296.67,426.25 298.77,425.77 300.00,424.50 C301.23,423.23 301.63,421.78 302.40,420.00 C303.17,418.22 303.85,415.97 304.60,413.80 C305.35,411.63 306.23,408.97 306.90,407.00 C307.57,405.03 308.03,404.25 308.60,402.00 C309.17,399.75 309.82,395.85 310.30,393.50 C310.78,391.15 311.17,390.15 311.50,387.90 C311.83,385.65 312.05,382.98 312.30,380.00 C312.55,377.02 312.67,375.00 313.00,370.00 C313.33,365.00 313.83,357.50 314.30,350.00 C314.77,342.50 315.35,333.33 315.80,325.00 C316.25,316.67 316.63,307.50 317.00,300.00 C317.37,292.50 317.77,285.42 318.00,280.00 C318.23,274.58 318.23,271.67 318.40,267.50 C318.57,263.33 318.90,257.08 319.00,255.00" fill="none" stroke="#e00000" stroke-width="2.1" stroke-dasharray="2 1.9"/>
</g>
<g clip-path="url(#c4)">
<path d="M391.20,393.80 C394.08,394.05 402.70,394.80 408.50,395.30 C414.30,395.80 421.62,396.40 426.00,396.80 C430.38,397.20 431.88,397.33 434.80,397.70 C437.72,398.07 440.97,398.70 443.50,399.00 C446.03,399.30 447.45,399.32 450.00,399.50 C452.55,399.68 455.88,399.88 458.80,400.10 C461.72,400.32 464.58,400.57 467.50,400.80 C470.42,401.03 473.38,401.25 476.30,401.50 C479.22,401.75 482.08,401.98 485.00,402.30 C487.92,402.62 490.88,402.95 493.80,403.40 C496.72,403.85 499.80,404.37 502.50,405.00 C505.20,405.63 508.12,406.72 510.00,407.20 C511.88,407.68 511.72,407.63 513.80,407.90 C515.88,408.17 519.58,408.68 522.50,408.80 C525.42,408.92 528.38,408.75 531.30,408.60 C534.22,408.45 537.08,408.12 540.00,407.90 C542.92,407.68 545.88,407.47 548.80,407.30 C551.72,407.13 554.80,406.90 557.50,406.90 C560.20,406.90 562.92,407.13 565.00,407.30 C567.08,407.47 567.70,407.60 570.00,407.90 C572.30,408.20 576.13,408.95 578.80,409.10 C581.47,409.25 583.73,408.85 586.00,408.80 C588.27,408.75 590.73,408.95 592.40,408.80 C594.07,408.65 594.83,408.43 596.00,407.90 C597.17,407.37 598.13,407.00 599.40,405.60 C600.67,404.20 602.08,401.75 603.60,399.50 C605.12,397.25 606.97,394.05 608.50,392.10 C610.03,390.15 611.37,389.28 612.80,387.80 C614.23,386.32 615.83,384.72 617.10,383.20 C618.37,381.68 619.20,380.40 620.40,378.70 C621.60,377.00 623.05,374.55 624.30,373.00 C625.55,371.45 626.82,370.30 627.90,369.40 C628.98,368.50 629.85,368.43 630.80,367.60 C631.75,366.77 632.65,365.90 633.60,364.40 C634.55,362.90 635.65,360.52 636.50,358.60 C637.35,356.68 638.05,354.93 638.70,352.90 C639.35,350.87 639.85,349.38 640.40,346.40 C640.95,343.42 641.40,339.40 642.00,335.00 C642.60,330.60 643.33,325.12 644.00,320.00 C644.67,314.88 645.33,310.13 646.00,304.30 C646.67,298.47 647.40,291.13 648.00,285.00 C648.60,278.87 649.18,272.50 649.60,267.50 C650.02,262.50 650.35,257.08 650.50,255.00" fill="none" stroke="#1f9f1f" stroke-width="2"/>
<path d="M391.20,393.30 C392.67,393.45 397.12,393.90 400.00,394.20 C402.88,394.50 405.62,394.80 408.50,395.10 C411.38,395.40 414.38,395.72 417.30,396.00 C420.22,396.28 423.08,396.62 426.00,396.80 C428.92,396.98 431.88,397.10 434.80,397.10 C437.72,397.10 440.97,396.88 443.50,396.80 C446.03,396.72 447.45,396.70 450.00,396.60 C452.55,396.50 455.88,396.35 458.80,396.20 C461.72,396.05 464.58,395.88 467.50,395.70 C470.42,395.52 473.38,395.30 476.30,395.10 C479.22,394.90 482.08,394.65 485.00,394.50 C487.92,394.35 490.88,394.20 493.80,394.20 C496.72,394.20 499.80,394.38 502.50,394.50 C505.20,394.62 506.67,394.73 510.00,394.90 C513.33,395.07 518.95,395.43 522.50,395.50 C526.05,395.57 528.38,395.45 531.30,395.30 C534.22,395.15 537.08,394.88 540.00,394.60 C542.92,394.32 545.88,393.85 548.80,393.60 C551.72,393.35 555.37,393.18 557.50,393.10 C559.63,393.02 560.35,392.82 561.60,393.10 C562.85,393.38 563.95,394.10 565.00,394.80 C566.05,395.50 566.98,396.38 567.90,397.30 C568.82,398.22 569.63,399.32 570.50,400.30 C571.37,401.28 572.22,402.25 573.10,403.20 C573.98,404.15 574.85,405.02 575.80,406.00 C576.75,406.98 577.78,408.22 578.80,409.10 C579.82,409.98 580.80,410.68 581.90,411.30 C583.00,411.92 584.23,412.67 585.40,412.80 C586.57,412.93 587.73,412.50 588.90,412.10 C590.07,411.70 591.23,410.98 592.40,410.40 C593.57,409.82 594.73,409.18 595.90,408.60 C597.07,408.02 598.23,407.55 599.40,406.90 C600.57,406.25 601.88,405.58 602.90,404.70 C603.92,403.82 604.72,402.67 605.50,401.60 C606.28,400.53 606.88,399.37 607.60,398.30 C608.32,397.23 608.98,396.13 609.80,395.20 C610.62,394.27 611.58,393.52 612.50,392.70 C613.42,391.88 614.43,391.17 615.30,390.30 C616.17,389.43 616.88,388.42 617.70,387.50 C618.52,386.58 619.37,385.82 620.20,384.80 C621.03,383.78 621.95,382.53 622.70,381.40 C623.45,380.27 624.02,379.10 624.70,378.00 C625.38,376.90 626.08,375.88 626.80,374.80 C627.52,373.72 628.33,372.63 629.00,371.50 C629.67,370.37 630.27,369.18 630.80,368.00 C631.33,366.82 631.73,365.60 632.20,364.40 C632.67,363.20 633.18,362.00 633.60,360.80 C634.02,359.60 634.33,358.40 634.70,357.20 C635.07,356.00 635.43,354.85 635.80,353.60 C636.17,352.35 636.60,351.02 636.90,349.70 C637.20,348.38 637.17,348.15 637.60,345.70 C638.03,343.25 638.93,338.45 639.50,335.00 C640.07,331.55 640.23,330.12 641.00,325.00 C641.77,319.88 643.23,310.97 644.10,304.30 C644.97,297.63 645.55,291.13 646.20,285.00 C646.85,278.87 647.53,272.50 648.00,267.50 C648.47,262.50 648.83,257.08 649.00,255.00" fill="none" stroke="#e00000" stroke-width="2.1" stroke-dasharray="2 1.9"/>
</g>
<g fill="#000">
<text x="59.20" y="228.80" font-size="9.8" text-anchor="middle">10<tspan font-size="6.6" dy="-4.5">&#8722;4</tspan></text>
<text x="129.94" y="228.80" font-size="9.8" text-anchor="middle">10<tspan font-size="6.6" dy="-4.5">&#8722;3</tspan></text>
<text x="200.68" y="228.80" font-size="9.8" text-anchor="middle">10<tspan font-size="6.6" dy="-4.5">&#8722;2</tspan></text>
<text x="271.42" y="228.80" font-size="9.8" text-anchor="middle">10<tspan font-size="6.6" dy="-4.5">&#8722;1</tspan></text>
<text x="35.80" y="194.52" font-size="10" text-anchor="end">0.9</text>
<text x="35.80" y="162.50" font-size="10" text-anchor="end">0.95</text>
<text x="35.80" y="130.47" font-size="10" text-anchor="end">1</text>
<text x="35.80" y="98.45" font-size="10" text-anchor="end">1.05</text>
<text x="35.80" y="66.42" font-size="10" text-anchor="end">1.1</text>
<text x="35.80" y="34.40" font-size="10" text-anchor="end">1.15</text>
<text x="412.80" y="228.80" font-size="9.8" text-anchor="middle">10<tspan font-size="6.6" dy="-4.5">&#8722;4</tspan></text>
<text x="483.54" y="228.80" font-size="9.8" text-anchor="middle">10<tspan font-size="6.6" dy="-4.5">&#8722;3</tspan></text>
<text x="554.28" y="228.80" font-size="9.8" text-anchor="middle">10<tspan font-size="6.6" dy="-4.5">&#8722;2</tspan></text>
<text x="625.02" y="228.80" font-size="9.8" text-anchor="middle">10<tspan font-size="6.6" dy="-4.5">&#8722;1</tspan></text>
<text x="389.60" y="219.85" font-size="10" text-anchor="end">0.8</text>
<text x="389.60" y="200.03" font-size="10" text-anchor="end">0.85</text>
<text x="389.60" y="180.21" font-size="10" text-anchor="end">0.9</text>
<text x="389.60" y="160.39" font-size="10" text-anchor="end">0.95</text>
<text x="389.60" y="140.57" font-size="10" text-anchor="end">1</text>
<text x="389.60" y="120.75" font-size="10" text-anchor="end">1.05</text>
<text x="389.60" y="100.93" font-size="10" text-anchor="end">1.1</text>
<text x="389.60" y="81.11" font-size="10" text-anchor="end">1.15</text>
<text x="389.60" y="61.29" font-size="10" text-anchor="end">1.2</text>
<text x="389.60" y="41.47" font-size="10" text-anchor="end">1.25</text>
<text x="389.60" y="21.65" font-size="10" text-anchor="end">1.3</text>
<text x="59.71" y="477.20" font-size="9.8" text-anchor="middle">10<tspan font-size="6.6" dy="-4.5">&#8722;4</tspan></text>
<text x="131.49" y="477.20" font-size="9.8" text-anchor="middle">10<tspan font-size="6.6" dy="-4.5">&#8722;3</tspan></text>
<text x="203.27" y="477.20" font-size="9.8" text-anchor="middle">10<tspan font-size="6.6" dy="-4.5">&#8722;2</tspan></text>
<text x="275.04" y="477.20" font-size="9.8" text-anchor="middle">10<tspan font-size="6.6" dy="-4.5">&#8722;1</tspan></text>
<text x="35.90" y="469.25" font-size="10" text-anchor="end">0</text>
<text x="35.90" y="436.29" font-size="10" text-anchor="end">0.02</text>
<text x="35.90" y="403.33" font-size="10" text-anchor="end">0.04</text>
<text x="35.90" y="370.37" font-size="10" text-anchor="end">0.06</text>
<text x="35.90" y="337.41" font-size="10" text-anchor="end">0.08</text>
<text x="35.90" y="304.45" font-size="10" text-anchor="end">0.1</text>
<text x="35.90" y="271.49" font-size="10" text-anchor="end">0.12</text>
<text x="413.12" y="477.20" font-size="9.8" text-anchor="middle">10<tspan font-size="6.6" dy="-4.5">&#8722;4</tspan></text>
<text x="484.95" y="477.20" font-size="9.8" text-anchor="middle">10<tspan font-size="6.6" dy="-4.5">&#8722;3</tspan></text>
<text x="556.78" y="477.20" font-size="9.8" text-anchor="middle">10<tspan font-size="6.6" dy="-4.5">&#8722;2</tspan></text>
<text x="628.61" y="477.20" font-size="9.8" text-anchor="middle">10<tspan font-size="6.6" dy="-4.5">&#8722;1</tspan></text>
<text x="389.60" y="469.25" font-size="10" text-anchor="end">0</text>
<text x="389.60" y="444.53" font-size="10" text-anchor="end">0.02</text>
<text x="389.60" y="419.81" font-size="10" text-anchor="end">0.04</text>
<text x="389.60" y="395.09" font-size="10" text-anchor="end">0.06</text>
<text x="389.60" y="370.37" font-size="10" text-anchor="end">0.08</text>
<text x="389.60" y="345.65" font-size="10" text-anchor="end">0.1</text>
<text x="389.60" y="320.93" font-size="10" text-anchor="end">0.12</text>
<text x="389.60" y="296.21" font-size="10" text-anchor="end">0.14</text>
<text x="389.60" y="271.49" font-size="10" text-anchor="end">0.16</text>
</g>
<text x="183.2" y="9.9" font-size="11.62" text-anchor="middle">NNPDF3.1 NNLO, Q = 100 GeV</text>
<text x="536.4" y="9.7" font-size="11.62" text-anchor="middle">NNPDF3.1 NNLO, Q = 100 GeV</text>
<text x="183.2" y="260.2" font-size="11.62" text-anchor="middle">NNPDF3.1 NNLO, Q = 100 GeV</text>
<text x="536.4" y="260.2" font-size="11.62" text-anchor="middle">NNPDF3.1 NNLO, Q = 100 GeV</text>
<text x="187.0" y="236.2" font-size="11.8" text-anchor="middle">x</text>
<text x="541.0" y="236.2" font-size="11.8" text-anchor="middle">x</text>
<text x="185.5" y="484.3" font-size="11.8" text-anchor="middle">x</text>
<text x="539.0" y="484.3" font-size="11.8" text-anchor="middle">x</text>
<text transform="translate(12.4,118.6) rotate(-90)" font-size="11.65" text-anchor="middle">g ( x, Q<tspan font-size="8.6" dy="-5.2">2</tspan><tspan dy="5.2">)</tspan> / g ( x, Q<tspan font-size="8.6" dy="-5.2">2</tspan><tspan dy="5.2">)</tspan> [ref]</text>
<text transform="translate(366.2,118.5) rotate(-90)" font-size="11.65" text-anchor="middle">s<tspan font-size="8.6" dy="-5.2">+</tspan><tspan dy="5.2"> </tspan>( x, Q<tspan font-size="8.6" dy="-5.2">2</tspan><tspan dy="5.2">)</tspan> / s<tspan font-size="8.6" dy="-5.2">+</tspan><tspan dy="5.2"> </tspan>( x, Q<tspan font-size="8.6" dy="-5.2">2</tspan><tspan dy="5.2">)</tspan> [ref]</text>
<text transform="translate(12.4,367.7) rotate(-90)" font-size="11.45" text-anchor="middle">&#948; g ( x, Q<tspan font-size="8.6" dy="-5.2">2</tspan><tspan dy="5.2">)</tspan> / ( g ( x, Q<tspan font-size="8.6" dy="-5.2">2</tspan><tspan dy="5.2">)</tspan> [ref] )</text>
<text transform="translate(366.5,365.6) rotate(-90)" font-size="11.45" text-anchor="middle">&#948; s<tspan font-size="8.6" dy="-5.2">+</tspan><tspan dy="5.2"> </tspan>( x, Q<tspan font-size="8.6" dy="-5.2">2</tspan><tspan dy="5.2">)</tspan> / ( s<tspan font-size="8.6" dy="-5.2">+</tspan><tspan dy="5.2"> </tspan>( x, Q<tspan font-size="8.6" dy="-5.2">2</tspan><tspan dy="5.2">)</tspan> [ref] )</text>
<rect x="41.5" y="20.7" width="161.3" height="53.9" fill="#fff" stroke="#000" stroke-width="1"/>
<rect x="47.0" y="24.0" width="29" height="18.6" fill="#00ff00"/>
<path d="M47.0,33.9h29" stroke="#1a4a1a" stroke-width="1" stroke-dasharray="1.5 2"/>
<rect x="47.0" y="51.0" width="29" height="20.2" fill="url(#hw)"/>
<path d="M47.0,61.2h29" stroke="#d01818" stroke-width="1.2" stroke-dasharray="2 2"/>
<text x="81.6" y="39.8" font-size="13.2">NNPDF3.1</text>
<text x="81.6" y="67.4" font-size="13.2">NNPDF3.1 no Z pT</text>
<rect x="394.7" y="20.5" width="161.3" height="54.1" fill="#fff" stroke="#000" stroke-width="1"/>
<rect x="400.4" y="23.8" width="29" height="18.6" fill="#00ff00"/>
<path d="M400.4,33.7h29" stroke="#1a4a1a" stroke-width="1" stroke-dasharray="1.5 2"/>
<rect x="400.4" y="50.8" width="29" height="20.2" fill="url(#hw)"/>
<path d="M400.4,61.0h29" stroke="#d01818" stroke-width="1.2" stroke-dasharray="2 2"/>
<text x="434.8" y="39.8" font-size="13.2">NNPDF3.1</text>
<text x="434.8" y="67.4" font-size="13.2">NNPDF3.1 no Z pT</text>
<rect x="40.7" y="269.6" width="150.1" height="46.5" fill="#fff" stroke="#000" stroke-width="1"/>
<path d="M46.9,281.5H73.0" stroke="#1f9f1f" stroke-width="1.9"/>
<path d="M46.9,305.2H73.0" stroke="#e00000" stroke-width="1.6" stroke-dasharray="2 1.9"/>
<text x="78.9" y="286.6" font-size="12.3">NNPDF3.1</text>
<text x="78.9" y="309.9" font-size="12.3">NNPDF3.1 no Z pT</text>
<rect x="394.5" y="269.6" width="149.9" height="46.5" fill="#fff" stroke="#000" stroke-width="1"/>
<path d="M399.7,281.5H425.7" stroke="#1f9f1f" stroke-width="1.9"/>
<path d="M399.7,305.2H425.7" stroke="#e00000" stroke-width="1.6" stroke-dasharray="2 1.9"/>
<text x="432.2" y="286.6" font-size="12.3">NNPDF3.1</text>
<text x="432.2" y="309.9" font-size="12.3">NNPDF3.1 no Z pT</text>
</g>
</svg>
</body></html>
